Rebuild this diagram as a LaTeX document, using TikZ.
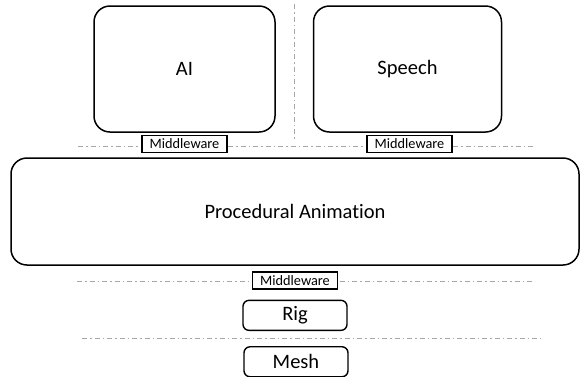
\documentclass[tikz,border=0pt]{standalone}
\usepackage{fontspec}
\setmainfont[Ligatures=NoCommon]{Carlito}
\usepackage{tikz}
\usetikzlibrary{positioning}
\definecolor{sepgray}{HTML}{A6A6A6}
\tikzstyle{module} = [rectangle, draw=black, line width=1.5pt, rounded corners=16pt,
    inner sep=0pt, minimum height=126pt, font=\fontsize{20.5}{24}\selectfont]
\tikzstyle{layer} = [rectangle, draw=black, line width=1.4pt, rounded corners=6pt,
    inner sep=0pt, minimum width=104pt, minimum height=30pt, font=\fontsize{20.5}{24}\selectfont]
\tikzstyle{glue} = [rectangle, draw=black, line width=1.3pt, fill=white,
    inner sep=0pt, minimum width=85pt, minimum height=17pt, font=\fontsize{14.3}{16}\selectfont]
\tikzstyle{divider} = [draw=sepgray, line width=0.9pt, dash pattern=on 5pt off 3pt on 1.5pt off 3pt]

\begin{document}
\begin{tikzpicture}[x=1pt, y=-1pt]
\useasboundingbox (0,0) rectangle (580,376);

% separators
\coordinate (vtop) at (294,4);
\coordinate (vbot) at (294,140);
\coordinate (s1l) at (78,146);
\coordinate (s1r) at (533,146);
\coordinate (s2l) at (77,281);
\coordinate (s2r) at (535,281);
\coordinate (s3l) at (82,338);
\coordinate (s3r) at (541,338);
\draw[divider] (vtop) -- (vbot);
\draw[divider] (s1l) -- (s1r);
\draw[divider] (s2l) -- (s2r);
\draw[divider] (s3l) -- (s3r);

% upper modules
\node[module, minimum width=181pt] (ai) at (184.5,69) {AI};
\node[module, minimum width=188pt, right=37pt of ai] (speech) {Speech};
\node[glue] (mwai) at (184.5,144) {Middleware};
\node[glue] (mwspeech) at (409.5,144) {Middleware};

% animation layer
\node[module, minimum width=568pt, minimum height=107pt] (anim) at (295,211.5) {Procedural Animation};
\node[glue] (mwanim) at (295,280.5) {Middleware};

% lower layers
\node[layer, below=10pt of mwanim] (rig) {Rig};
\node[layer, below=15pt of rig, xshift=1pt] (mesh) {Mesh};
\end{tikzpicture}
\end{document}
